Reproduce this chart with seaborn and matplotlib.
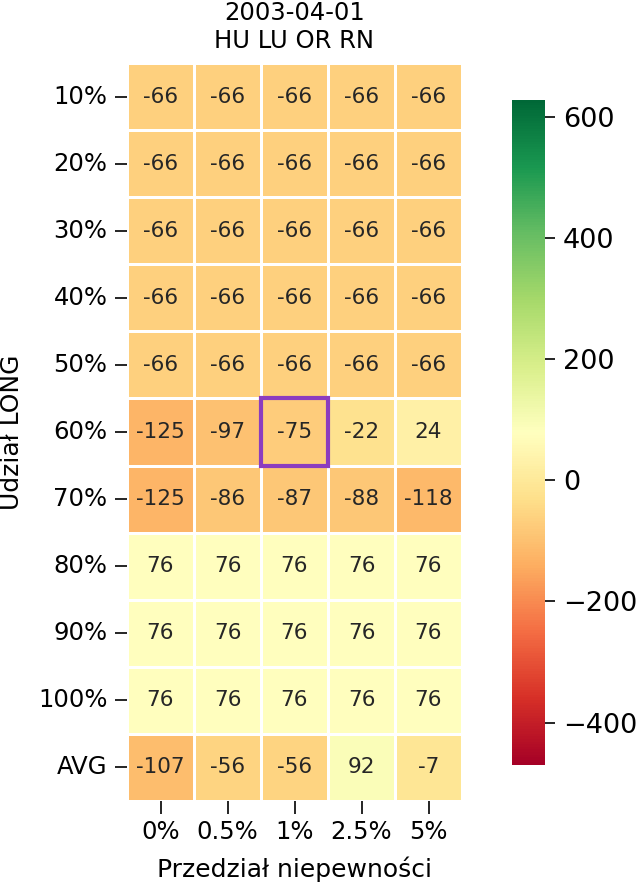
import numpy as np
import pandas as pd
import matplotlib
matplotlib.use("Agg")
import matplotlib.pyplot as plt
from matplotlib.patches import Rectangle
import seaborn as sns

# values
row_labels = ['10%', '20%', '30%', '40%', '50%', '60%', '70%', '80%', '90%', '100%', 'AVG']
col_labels = ['0%', '0.5%', '1%', '2.5%', '5%']

rows_10_50 = [-66, -66, -66, -66, -66]
row_60 = [-125, -97, -75, -22, 24]
row_70 = [-125, -86, -87, -88, -118]
rows_80_100 = [76, 76, 76, 76, 76]
row_avg = [-107, -56, -56, 92, -7]

vmin, vmax = -470, 628
best_row, best_col = 5, 2  # highlighted cell

matrix = [rows_10_50] * 5 + [row_60, row_70] + [rows_80_100] * 3 + [row_avg]
df = pd.DataFrame(matrix, index=row_labels, columns=col_labels)

fig = plt.figure(figsize=(6.4, 8.82), dpi=100)
ax = fig.add_axes([127 / 640, 1 - 801 / 882, 335 / 640, 738 / 882])
cax = fig.add_axes([512 / 640, 1 - 765 / 882, 33 / 640, 665 / 882])

sns.heatmap(df, ax=ax, cbar_ax=cax, cmap='RdYlGn', vmin=vmin, vmax=vmax,
            annot=True, fmt='d', annot_kws={'fontsize': 15.5},
            linewidths=2, linecolor='white')

# frame around the chosen cell
ax.add_patch(Rectangle((best_col, best_row), 1, 1, fill=False,
                       edgecolor='#8c3cbf', lw=3, zorder=5))

ax.set_title('2003-04-01\nHU LU OR RN', fontsize=17.5, pad=11)
ax.set_xlabel('Przedział niepewności', fontsize=18, labelpad=8.5)
ax.set_ylabel('Udział LONG', fontsize=18, labelpad=10)
ax.tick_params(axis='both', labelsize=17.5, length=9, width=1.2, pad=5)
ax.set_yticklabels(row_labels, rotation=0)
ax.set_xticklabels(col_labels, rotation=0)
cax.tick_params(labelsize=19.5, length=7, width=1.2, pad=6)

fig.savefig('out.png', dpi=100)
